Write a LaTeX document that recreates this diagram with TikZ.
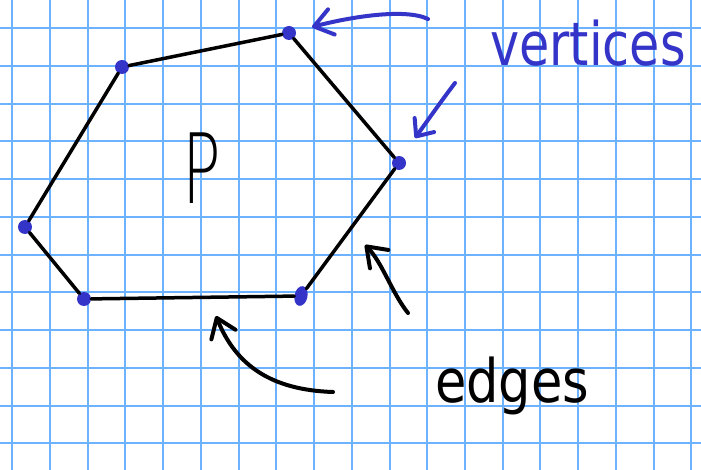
\documentclass[tikz,border=0pt]{standalone}
\usepackage{fontspec}
\usetikzlibrary{arrows.meta,shapes.geometric}
\newfontfamily\handfont{DejaVu Sans}
\newfontfamily\thinhand{DejaVu Sans ExtraLight}
\definecolor{inkblue}{RGB}{52,52,200}
\definecolor{gridblue}{RGB}{108,178,255}
\tikzstyle{gridline} = [color=gridblue,line width=2pt]
\tikzstyle{vertex} = [circle,fill=inkblue,inner sep=0pt,minimum size=14pt]
\tikzstyle{edgeline} = [line width=3.5pt,line cap=round,line join=round]
\tikzstyle{arrow} = [line width=4pt,line cap=round,-{Straight Barb[round,length=18pt,width=26pt]}]
\tikzstyle{handtext} = [inner sep=0pt,anchor=base west,font=\handfont\fontsize{60}{60}\selectfont]

\begin{document}
\begin{tikzpicture}[x=1pt,y=1pt,yscale=-1,xscale=1]
\useasboundingbox (0,0) rectangle (701,470);

%Grid paper
\foreach \i in {0,...,18}
  \draw[gridline] ({12.3+37.72*\i},0) -- ({12.3+37.72*\i},470);
\foreach \j in {0,...,11}
  \draw[gridline] (0,{28.3+37.72*\j}) -- (701,{28.3+37.72*\j});

%Shape: vertices
\node[vertex] (v1) at (289,33) {};
\node[vertex] (v2) at (122,67) {};
\node[vertex] (v3) at (25,227) {};
\node[vertex] (v4) at (84,299) {};
\node[vertex,ellipse,minimum width=13pt,minimum height=20pt,rotate=-12] (v5) at (301,296) {};
\node[vertex] (v6) at (399,163) {};

%Straight Lines: edges
\draw[edgeline] (v1) -- (v2) -- (v3) -- (v4) -- (v5) -- (v6) -- (v1);

% Text Node
\node[handtext,font=\thinhand\fontsize{97}{97}\selectfont] (poly) at (182,204) {\scalebox{0.66}[1]{P}};
% Text Node
\node[handtext,text=inkblue] (vtxlabel) at (490,66) {\scalebox{0.82}[1]{vertices}};
% Text Node
\node[handtext] (edglabel) at (435,402) {\scalebox{0.85}[1]{edges}};

%Curve Lines: arrows
\coordinate (vtail1) at (428,19);
\coordinate (vtip1) at (312,27);
\coordinate (vtail2) at (455,83);
\coordinate (vtip2) at (415,138);
\coordinate (etail1) at (408,313);
\coordinate (etip1) at (365,245);
\coordinate (etail2) at (333,392);
\coordinate (etip2) at (216,316);
\draw[arrow,inkblue] (vtail1) .. controls (405,8) and (350,17) .. (vtip1);
\draw[arrow,inkblue,-{Straight Barb[round,length=14pt,width=24pt]}] (vtail2) .. controls (442,100) and (428,120) .. (vtip2);
\draw[arrow] (etail1) .. controls (392,293) and (382,262) .. (etip1);
\draw[arrow] (etail2) .. controls (272,390) and (236,366) .. (etip2);

\end{tikzpicture}
\end{document}
